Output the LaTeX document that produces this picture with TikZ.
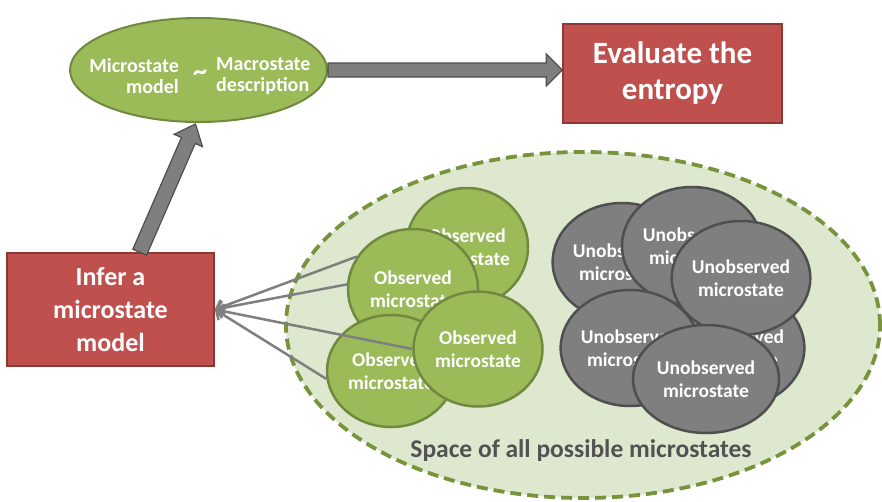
\documentclass[tikz,border=0pt]{standalone}
\usepackage{fontspec}
\setmainfont{Carlito}
\usetikzlibrary{shapes.geometric,arrows.meta,calc}

\definecolor{leaf}{HTML}{9BBB59}
\definecolor{leafdark}{HTML}{71893F}
\definecolor{meadow}{HTML}{DEE8CF}
\definecolor{meadowedge}{HTML}{77933C}
\definecolor{brick}{HTML}{C0504D}
\definecolor{brickdark}{HTML}{8C3836}
\definecolor{slate}{HTML}{7F7F7F}
\definecolor{slatedark}{HTML}{4F4F4F}
\definecolor{caption}{HTML}{525252}

\pgfdeclarelayer{front}
\pgfsetlayers{main,front}

% block arrow: start, tip, shaft half-width, head half-width, head length
\newcommand\fatarrow[5]{%
  \path[bigarrow] let \p1=($(#2)-(#1)$), \n1={atan2(\y1,\x1)}, \n2={veclen(\x1,\y1)} in
    [shift={(#1)}, rotate=\n1]
    (0pt,#3) -- ({(\n2-#5)*1pt},#3) -- ({(\n2-#5)*1pt},#4) -- ({\n2*1pt},0pt)
    -- ({(\n2-#5)*1pt},-#4) -- ({(\n2-#5)*1pt},-#3) -- (0pt,-#3) -- cycle;}

\tikzset{
  bigarrow/.style={draw=slatedark, fill=slate, line width=1.2pt, line join=miter},
  redbox/.style={rectangle, draw=brickdark, fill=brick, line width=1.5pt,
    text=white, align=center, inner sep=0pt},
  blob/.style={ellipse, line width=2.5pt, text=white, align=center, inner sep=0pt,
    font=\bfseries\fontsize{19.5}{23.4}\selectfont},
  obs/.style={blob, draw=leafdark, fill=leaf},
  unobs/.style={blob, draw=slatedark, fill=slate},
  etext/.style={text=white, inner sep=0pt, font=\bfseries\fontsize{20}{21}\selectfont},
  fan/.style={draw=slate, line width=2.5pt, -{Straight Barb[length=7pt,width=14pt]}},
}

\begin{document}
\begin{tikzpicture}[x=1pt,y=-1pt]
\useasboundingbox (0,0) rectangle (882,501);

% space of all microstates
\node[ellipse, draw=meadowedge, fill=meadow, line width=3.8pt,
      dash pattern=on 11pt off 6pt, minimum width=594pt, minimum height=346pt,
      inner sep=0pt] (space) at (583,325) {};
\node[text=caption, inner sep=0pt, font=\bfseries\fontsize{25.5}{29}\selectfont]
      (spacelabel) at (581,451) {Space of all possible microstates};

% model ellipse and result box
\node[ellipse, draw=leafdark, fill=leaf, line width=2pt, minimum width=257pt,
      minimum height=104pt, inner sep=0pt] (macro) at (198.5,70) {};
\node[etext, anchor=east, align=right] (mtxt) at (179,76) {Microstate\\model};
\node[etext, anchor=west, align=left] (dtxt) at (216,76) {Macrostate\\description};
\node[etext, font=\bfseries\fontsize{28}{28}\selectfont] (tilde) at (200,75) {\textasciitilde};

\node[redbox, minimum width=219pt, minimum height=99pt,
      font=\bfseries\fontsize{31}{36}\selectfont] (eval) at (672.5,73.5)
      {Evaluate the\\entropy};
\node[redbox, minimum width=207pt, minimum height=113pt,
      font=\bfseries\fontsize{26}{33}\selectfont] (infer) at (110.5,309.5)
      {Infer a\\microstate\\model};

% block arrows
\coordinate (hstart) at (macro.east);
\coordinate (htip) at (eval.west |- macro.east);
\fatarrow{hstart}{htip}{7pt}{16pt}{16}
\coordinate (ustart) at ($(infer.north west)!0.64!(infer.north east)$);
\coordinate (utip) at ($(macro.south)+(-3,1)$);
\fatarrow{ustart}{utip}{7.5pt}{15.5pt}{18}

% unobserved microstates
\node[unobs, minimum width=122pt, minimum height=118pt] (u1) at (622,262) {Unobserved\\microstate};
\node[unobs, minimum width=140pt, minimum height=118pt] (u2) at (692,246) {Unobserved\\microstate};
\node[unobs, minimum width=128pt, minimum height=118pt] (u4) at (735,348) {Unobserved\\microstate};
\node[unobs, minimum width=138pt, minimum height=116pt] (u5) at (630,348) {Unobserved\\microstate};
\node[unobs, minimum width=136pt, minimum height=114pt] (u3) at (741,278) {Unobserved\\microstate};
\node[unobs, minimum width=146pt, minimum height=108pt] (u6) at (706,379) {Unobserved\\microstate};

% observed microstates
\node[obs, minimum width=122pt, minimum height=118pt] (o1) at (467,247) {Observed\\microstate};
\node[obs, minimum width=130pt, minimum height=120pt] (o2) at (413,289) {Observed\\microstate};
\node[obs, minimum width=128pt, minimum height=112pt] (o3) at (391,371) {Observed\\microstate};
\begin{pgfonlayer}{front}
\node[obs, minimum width=129pt, minimum height=115pt] (o4) at (478,349) {Observed\\microstate};
\end{pgfonlayer}

% observations feeding the inference
\draw[fan] (o2.150) -- (infer.east);
\draw[fan] (o2.176) -- (infer.east);
\draw[fan] (o4.west) -- (infer.east);
\draw[fan] (o3.187) -- (infer.east);
\end{tikzpicture}
\end{document}
